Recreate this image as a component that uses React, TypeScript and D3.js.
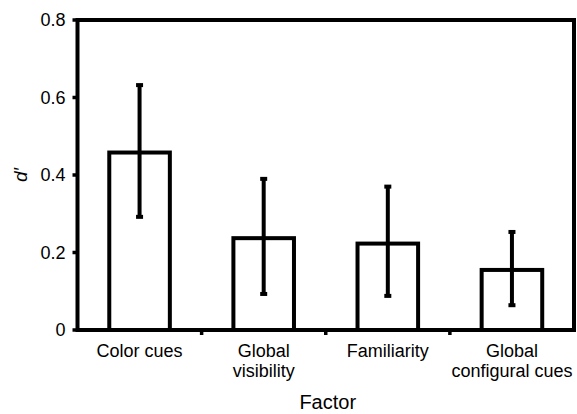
import React from "react";
import * as d3 from "d3";

const categories = ["Color cues", "Global visibility", "Familiarity", "Global configural cues"];
const labelLines = [["Color cues"], ["Global", "visibility"], ["Familiarity"], ["Global", "configural cues"]];
const means = [0.458, 0.237, 0.223, 0.155];
const errLow = [0.292, 0.093, 0.088, 0.064];
const errHigh = [0.632, 0.39, 0.37, 0.253];
const yTicks = [0, 0.2, 0.4, 0.6, 0.8];
const yTickLabels = ["0", "0.2", "0.4", "0.6", "0.8"];

export default function App() {
  const W = 577, H = 414;
  const left = 77.5, right = 574, top = 20, bottom = 330;
  const x = d3.scaleBand<string>().domain(categories).range([left, right]).paddingInner(0).paddingOuter(0);
  const y = d3.scaleLinear().domain([0, 0.8]).range([bottom, top]);
  const bw = x.bandwidth() * 0.488;
  const font = "Liberation Sans, Arial, Helvetica, sans-serif";
  const sw = 4;
  return (
    <svg width={W} height={H} style={{ position: "absolute", left: 0, top: 0, background: "#fff" }}>
      <rect x={0} y={0} width={W} height={H} fill="#fff" />
      {categories.map((c, i) => {
        const cx = (x(c) as number) + x.bandwidth() / 2;
        return (
          <g key={c}>
            <rect x={cx - bw / 2} y={y(means[i])} width={bw} height={bottom - y(means[i])} fill="#fff" stroke="#000" strokeWidth={sw} />
            <line x1={cx} x2={cx} y1={y(errLow[i])} y2={y(errHigh[i])} stroke="#000" strokeWidth={sw} />
            <rect x={cx - 3.5} y={y(errLow[i]) - 2} width={7} height={4} fill="#000" />
            <rect x={cx - 3.5} y={y(errHigh[i]) - 2} width={7} height={4} fill="#000" />
          </g>
        );
      })}
      <rect x={left} y={top} width={right - left} height={bottom - top} fill="none" stroke="#000" strokeWidth={sw} />
      {yTicks.map((t, i) => (
        <g key={t}>
          <line x1={left - 5} x2={left} y1={y(t)} y2={y(t)} stroke="#000" strokeWidth={3.5} />
          <text x={left - 12} y={y(t)} dy="0.35em" textAnchor="end" fontFamily={font} fontSize={18}>{yTickLabels[i]}</text>
        </g>
      ))}
      {categories.slice(1).map((c) => (
        <line key={c} x1={x(c) as number} x2={x(c) as number} y1={bottom} y2={bottom + 5} stroke="#000" strokeWidth={3.5} />
      ))}
      {categories.map((c, i) => {
        const cx = (x(c) as number) + x.bandwidth() / 2;
        return (
          <text key={c} x={cx} y={357} textAnchor="middle" fontFamily={font} fontSize={18}>
            {labelLines[i].map((l, j) => (
              <tspan key={j} x={cx} dy={j === 0 ? 0 : 20}>{l}</tspan>
            ))}
          </text>
        );
      })}
      <text x={(left + right) / 2 + 2} y={409} textAnchor="middle" fontFamily={font} fontSize={20}>Factor</text>
      <text transform={`translate(27,175) rotate(-90)`} textAnchor="middle" fontFamily={font} fontSize={19} fontStyle="italic">d′</text>
    </svg>
  );
}
